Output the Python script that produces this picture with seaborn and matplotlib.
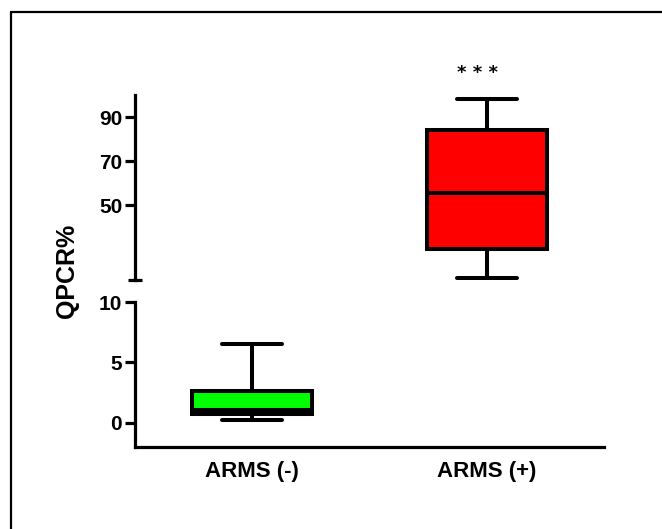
import pandas as pd
import numpy as np
import matplotlib
matplotlib.use('Agg')
import matplotlib.pyplot as plt
import seaborn as sns
from matplotlib.lines import Line2D

# five-number summaries (min, q1, median, q3, max)
groups = ['ARMS (-)', 'ARMS (+)']
arms_neg = [0.27, 0.77, 1.1, 2.65, 6.5]
arms_pos = [17.0, 30.3, 55.3, 84.2, 98.3]
colors = ['#00FF00', '#FF0000']
upper_ticks = [50, 70, 90]
lower_ticks = [0, 5, 10]

df = pd.DataFrame({
    'group': [groups[0]] * len(arms_neg) + [groups[1]] * len(arms_pos),
    'QPCR': arms_neg + arms_pos,
})

sns.set_style('white')
plt.rcParams['font.family'] = ['Liberation Sans', 'DejaVu Sans']
plt.rcParams['font.weight'] = 'bold'
for key in ('text.color', 'axes.edgecolor', 'axes.labelcolor',
            'xtick.color', 'ytick.color'):
    plt.rcParams[key] = 'black'

fig = plt.figure(figsize=(6.62, 5.29), dpi=100)
W, H = 662, 529
left, right = 135 / W, 604 / W
ax_top = fig.add_axes([left, 1 - 280 / H, right - left, (280 - 95) / H])
ax_bot = fig.add_axes([left, 1 - 447 / H, right - left, (447 - 302) / H])

for ax in (ax_top, ax_bot):
    sns.boxplot(data=df, x='group', y='QPCR', hue='group', palette=colors,
                saturation=1, whis=(0, 100), width=0.51, linecolor='black',
                linewidth=2.9, legend=False, ax=ax,
                capprops={'solid_capstyle': 'round'},
                whiskerprops={'solid_capstyle': 'butt'})
    ax.set_xlim(-0.5, 1.5)
    ax.set_xlabel('')
    ax.set_ylabel('')
    for s in ('top', 'right'):
        ax.spines[s].set_visible(False)
    ax.spines['left'].set_linewidth(2.3)
    ax.spines['bottom'].set_linewidth(2.3)
    ax.tick_params(axis='y', direction='out', length=7.2, width=2.3, pad=2,
                   labelsize=15, left=True)

ax_top.set_ylim(16, 100)
ax_top.set_yticks(upper_ticks)
ax_top.spines['bottom'].set_visible(False)
ax_top.tick_params(axis='x', bottom=False, labelbottom=False)
# break mark at the bottom of the upper segment
ax_top.plot([-0.014, 0.014], [0, 0], transform=ax_top.transAxes, color='black',
            lw=2.3, clip_on=False, solid_capstyle='butt')
ax_top.text(0.96, 110, '* * *', ha='center', va='center', fontsize=13,
            fontweight='bold', family=['DejaVu Sans'], clip_on=False)

ax_bot.set_ylim(-2, 10)
ax_bot.set_yticks(lower_ticks)
ax_bot.tick_params(axis='x', bottom=False, length=0, pad=10, labelsize=16)
for lab in ax_bot.get_xticklabels():
    lab.set_fontweight('bold')
for lab in ax_top.get_yticklabels() + ax_bot.get_yticklabels():
    lab.set_fontweight('bold')

fig.text(67 / W, 1 - 271 / H, 'QPCR%', rotation=90, ha='center', va='center',
         fontsize=18, fontweight='bold')

# outer frame (only left and top edges are inside the image)
fig.add_artist(Line2D([11 / W, 11 / W], [1 - 12 / H, 0], color='black', lw=1.6,
                      transform=fig.transFigure))
fig.add_artist(Line2D([11 / W, 1], [1 - 12 / H, 1 - 12 / H], color='black', lw=1.6,
                      transform=fig.transFigure))

fig.savefig('out.png', dpi=100)
